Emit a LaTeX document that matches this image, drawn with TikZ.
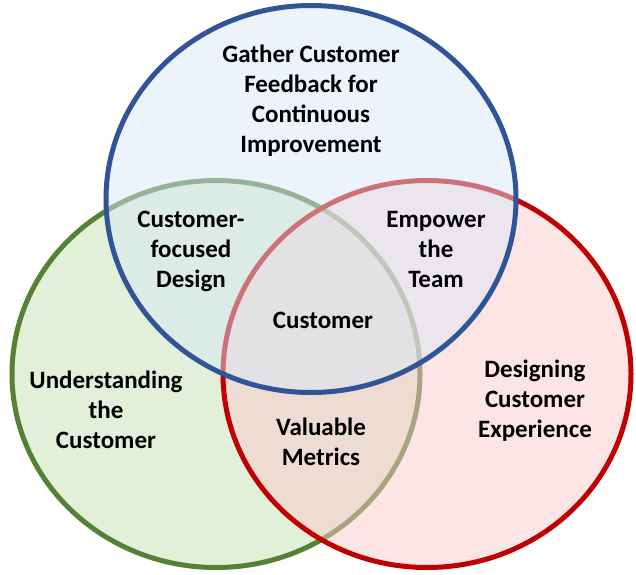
\documentclass[tikz,border=0pt]{standalone}
\usepackage{fontspec}
\setmainfont{Carlito}
\definecolor{blueline}{RGB}{47,85,151}
\definecolor{bluefill}{RGB}{217,231,245}
\definecolor{greenline}{RGB}{84,130,53}
\definecolor{greenfill}{RGB}{197,225,180}
\definecolor{redline}{RGB}{192,0,0}
\definecolor{redfill}{RGB}{251,201,203}
\tikzset{
  set/.style={line width=5pt, fill opacity=0.5},
  settext/.style={align=center, font=\fontsize{25}{30}\selectfont\bfseries, text=black}
}
\begin{document}
\begin{tikzpicture}[x=1pt,y=-1pt]
        \useasboundingbox (0,0) rectangle (636,574);
        \draw[set, draw=greenline, fill=greenfill] (216,374) ellipse (204 and 193.5);
        \draw[set, draw=redline, fill=redfill] (427,374) ellipse (204 and 193.5);
        \draw[set, draw=blueline, fill=bluefill] (311,199) ellipse (205 and 193.5);
        \node[settext] (feedback) at (311,101) {Gather Customer\\Feedback for\\Continuous\\Improvement};
        \node[settext] (design) at (191,251) {Customer-\\focused\\Design};
        \node[settext] (team) at (436,249) {Empower\\the\\Team};
        \node[settext] (customer) at (323,320) {Customer};
        \node[settext] (understand) at (106,410) {Understanding\\the\\Customer};
        \node[settext] (metrics) at (321,442) {Valuable\\Metrics};
        \node[settext] (experience) at (535,401) {Designing\\Customer\\Experience};
    \end{tikzpicture}
\end{document}
